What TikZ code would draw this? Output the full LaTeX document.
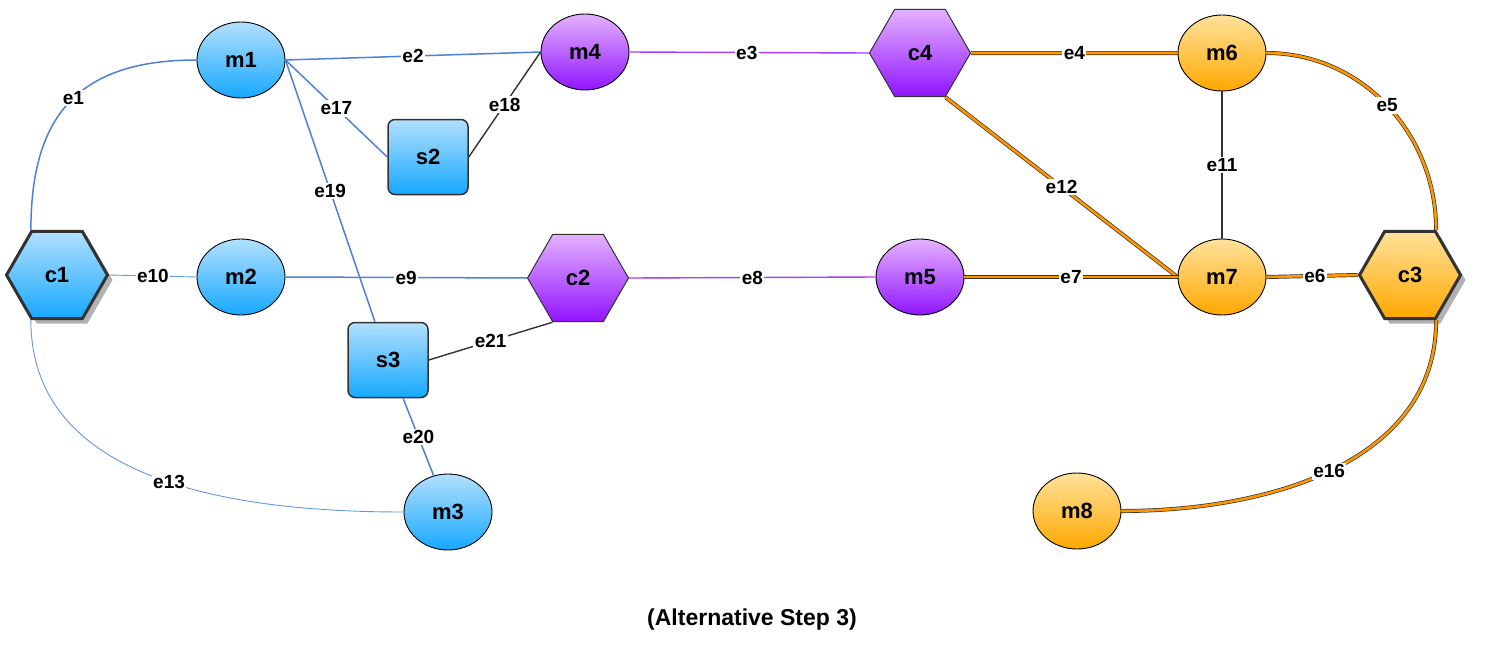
\documentclass[tikz,border=0pt]{standalone}
\usepackage{fontspec}
\setmainfont{Liberation Sans}
\usetikzlibrary{shapes.geometric,shadows}
\definecolor{bluetop}{RGB}{178,224,255}
\definecolor{bluebot}{RGB}{22,168,255}
\definecolor{purtop}{RGB}{228,178,255}
\definecolor{purbot}{RGB}{145,20,255}
\definecolor{orgtop}{RGB}{255,226,155}
\definecolor{orgbot}{RGB}{255,168,0}
\definecolor{blueedge}{RGB}{78,128,218}
\definecolor{lightblueedge}{RGB}{100,150,230}
\definecolor{puredge}{RGB}{170,60,245}
\definecolor{orgedge}{RGB}{255,150,0}
\definecolor{darkedge}{RGB}{50,50,50}
\newcommand{\nodefnt}{\fontsize{22}{26}\selectfont\bfseries}
\newcommand{\edgefnt}{\fontsize{19}{22}\selectfont\bfseries}
\begin{document}
\begin{tikzpicture}[x=1pt,y=-1pt,
  ellnode/.style={ellipse, draw=black, line width=0.9pt, minimum width=88pt, minimum height=76pt, inner sep=0pt, font=\nodefnt},
  sqnode/.style={rectangle, rounded corners=7pt, draw=darkedge, line width=1.5pt, minimum width=80pt, minimum height=75pt, inner sep=0pt, font=\nodefnt},
  hexnode/.style={regular polygon, regular polygon sides=6, minimum size=101pt, inner sep=0pt, font=\nodefnt, draw=darkedge, line width=1pt},
  hexthick/.style={hexnode, line width=3pt, drop shadow={shadow xshift=5pt, shadow yshift=-5pt, fill=black, opacity=0.3}},
  bluefill/.style={top color=bluetop, bottom color=bluebot},
  purfill/.style={top color=purtop, bottom color=purbot},
  orgfill/.style={top color=orgtop, bottom color=orgbot},
  elabel/.style={fill=white, inner sep=1.5pt, font=\edgefnt, text=black},
  bedge/.style={draw=blueedge, line width=1.5pt},
  lbedge/.style={draw=lightblueedge, line width=0.9pt},
  pedge/.style={draw=puredge, line width=1.4pt},
  kedge/.style={draw=darkedge, line width=1.4pt},
  oedge/.style={draw=darkedge, line width=0.7pt, double=orgedge, double distance=2.6pt}
]
\useasboundingbox (0,0) rectangle (1486,654);

% nodes
\node[hexthick, bluefill] (c1) at (57,275) {c1};
\node[ellnode, bluefill] (m1) at (241,60) {m1};
\node[ellnode, bluefill] (m2) at (241,277) {m2};
\node[ellnode, bluefill] (m3) at (448,512) {m3};
\node[sqnode, bluefill] (s2) at (428,157) {s2};
\node[sqnode, bluefill] (s3) at (388,360) {s3};
\node[ellnode, purfill] (m4) at (585,52) {m4};
\node[ellnode, purfill] (m5) at (920,277) {m5};
\node[hexnode, purfill] (c2) at (578,278) {c2};
\node[hexnode, purfill] (c4) at (920,53) {c4};
\node[ellnode, orgfill] (m6) at (1222,53) {m6};
\node[ellnode, orgfill] (m7) at (1222,277) {m7};
\node[ellnode, orgfill] (m8) at (1077,511) {m8};
\node[hexthick, orgfill] (c3) at (1410,275) {c3};

% blue edges
\draw[bedge] (c1.120) to[out=90,in=180,looseness=1.25] node[elabel,pos=0.52] {e1} (m1.west);
\draw[bedge] (m1.east) -- node[elabel,pos=0.5] {e2} (m4.west);
\draw[bedge] (m1.east) -- node[elabel,pos=0.5] {e17} (s2.west);
\draw[bedge] (m1.east) -- node[elabel,pos=0.5] {e19} (s3);
\draw[lbedge] (c1.east) -- node[elabel,pos=0.5] {e10} (m2.west);
\draw[bedge] (m2.east) -- node[elabel,pos=0.5] {e9} (c2.west);
\draw[lbedge] (c1.240) to[out=-90,in=180] node[elabel,pos=0.53] {e13} (m3.west);
\draw[bedge] (s3) -- node[elabel,pos=0.5] {e20} (m3);
% dark edges
\draw[kedge] (s2.east) -- node[elabel,pos=0.5] {e18} (m4.west);
\draw[kedge] (s3.east) -- node[elabel,pos=0.5] {e21} (c2.240);
\draw[kedge] (m6.south) -- node[elabel,pos=0.5] {e11} (m7.north);
% purple edges
\draw[pedge] (m4.east) -- node[elabel,pos=0.49] {e3} (c4.west);
\draw[pedge] (c2.east) -- node[elabel,pos=0.5] {e8} (m5.west);
% orange double edges
\draw[oedge] (c4.east) -- node[elabel,pos=0.5] {e4} (m6.west);
\draw[oedge] (c4.300) -- node[elabel,pos=0.5] {e12} (m7.west);
\draw[oedge] (m5.east) -- node[elabel,pos=0.5] {e7} (m7.west);
\draw[oedge] (m7.east) -- node[elabel,pos=0.53] {e6} (c3.west);
\draw[oedge] (m6.east) to[out=0,in=90] node[elabel,pos=0.5] {e5} (c3.60);
\draw[oedge] (c3.300) to[out=-90,in=0] node[elabel,pos=0.51] {e16} (m8.east);

\node[font=\fontsize{23}{27}\selectfont\bfseries] (title) at (752,620) {(Alternative Step 3)};
\end{tikzpicture}
\end{document}
